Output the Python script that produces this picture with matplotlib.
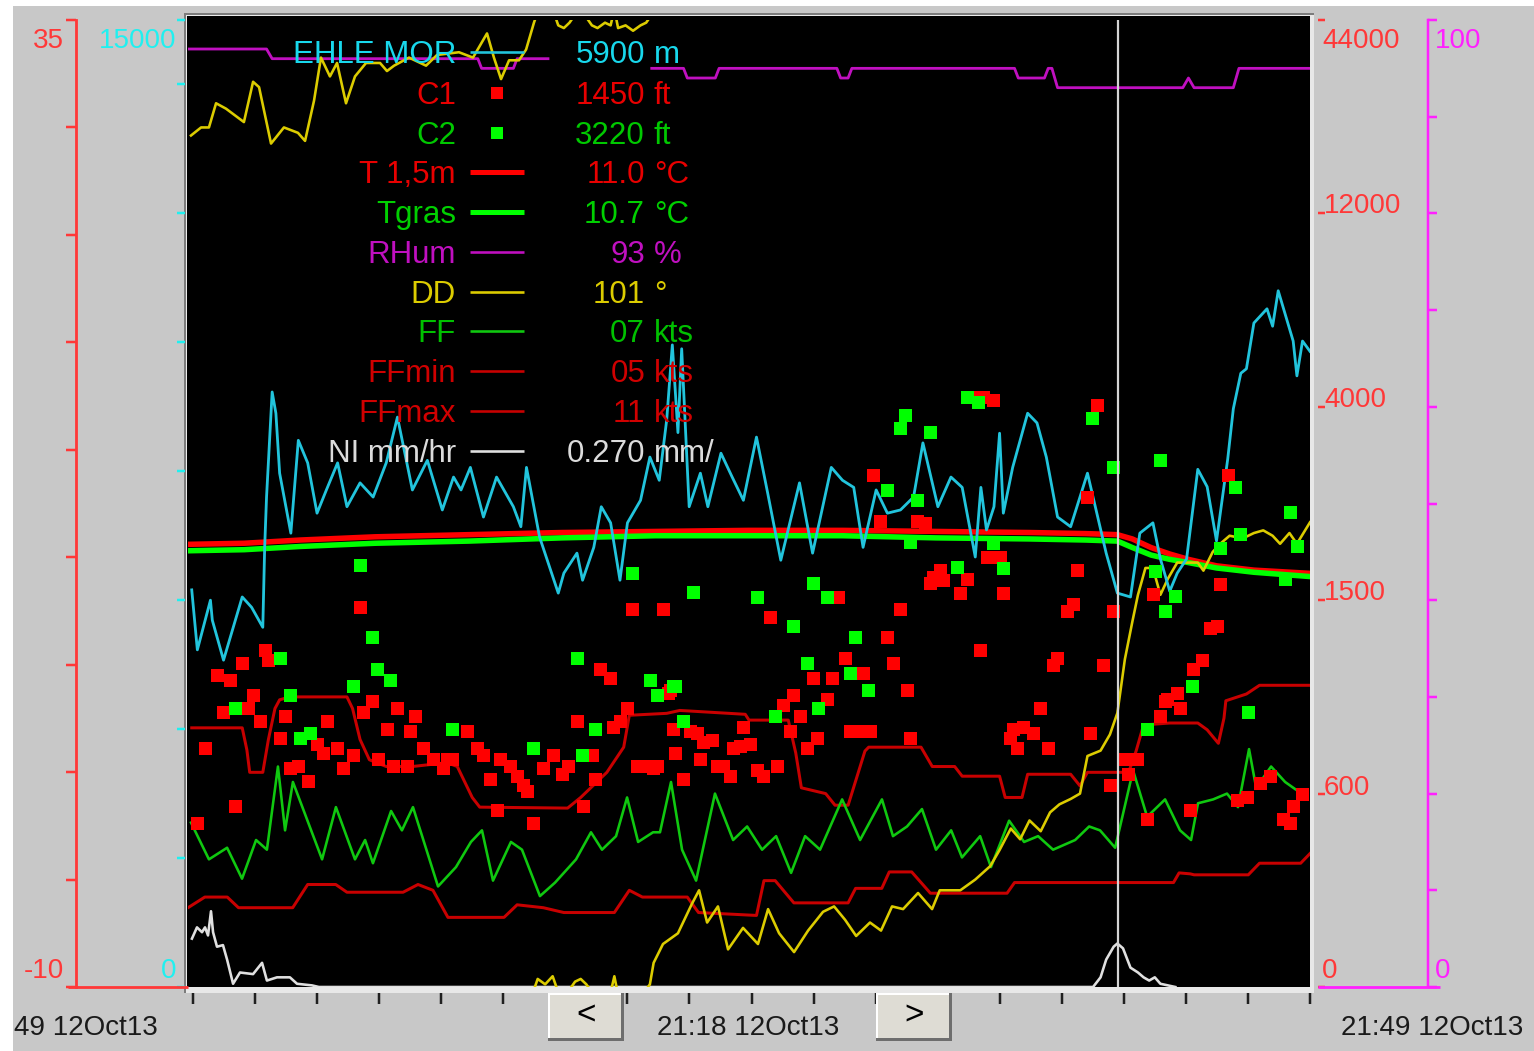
import matplotlib.pyplot as plt
import numpy as np
from matplotlib.lines import Line2D
from matplotlib.patches import Rectangle

plt.rcParams["font.family"] = ["Liberation Sans", "DejaVu Sans"]

W, H = 1534, 1051
PT = 0.72  # points per pixel at dpi 100

# ---- data (x = minutes after 20:49, 12 Oct 2013) ----
MOR_X = [0.2, 0.5, 1.2, 1.3, 1.9, 2.9, 3.4, 4.0, 4.1, 4.2,
         4.5, 4.7, 4.9, 5.5, 5.9, 6.4, 6.9, 7.4, 8.0, 8.5,
         9.2, 9.9, 10.6, 11.2, 12.0, 12.8, 13.6, 14.2, 14.6, 15.1,
         15.8, 16.5, 17.4, 17.8, 18.1, 18.8, 19.8, 20.1, 20.8, 21.1,
         21.7, 22.1, 22.6, 23.1, 23.5, 24.2, 24.7, 25.2, 25.6, 25.9,
         26.2, 26.4, 26.8, 27.4, 27.8, 28.5, 29.1, 29.7, 30.4, 31.0,
         31.7, 32.7, 33.4, 34.4, 35.0, 35.6, 36.1, 36.8, 37.4, 38.1,
         38.8, 39.3, 40.1, 40.8, 41.4, 42.1, 42.4, 42.7, 43.1, 43.4,
         43.6, 44.1, 44.9, 45.4, 45.9, 46.5, 47.2, 48.1, 48.6, 49.1,
         49.7, 50.4, 50.9, 51.6, 52.0, 52.5, 52.9, 53.4, 54.0, 54.5,
         55.0, 55.6, 55.9, 56.3, 56.6, 57.0, 57.7, 58.0, 58.3, 59.1,
         59.3, 59.6, 60.0]
MOR_M = [6160, 5230, 6000, 5690, 5070, 6050, 5890, 5580, 6820, 7600,
         9230, 8900, 7970, 7040, 8480, 8130, 7350, 7710, 8130, 7450,
         7820, 7600, 8130, 8840, 7710, 8170, 7400, 7910, 7710, 8060,
         7290, 7910, 7450, 7140, 8060, 6980, 6110, 6420, 6730, 6310,
         6820, 7450, 7200, 6310, 7200, 7550, 8220, 7860, 8800, 9960,
         8600, 9900, 7450, 7970, 7450, 8280, 7910, 7550, 8530, 7660,
         6620, 7820, 6730, 8060, 7860, 7750, 6820, 7710, 7350, 7400,
         7600, 8440, 7450, 7910, 7750, 6670, 7750, 7090, 7450, 8590,
         7350, 8060, 8900, 8750, 8220, 7290, 7140, 7970, 7350, 6730,
         6110, 6050, 7040, 7200, 6640, 6140, 6420, 6640, 8030, 7760,
         6920, 8190, 8970, 9520, 9590, 10300, 10520, 10250, 10800, 10020,
         9480, 10020, 9860]

C1_X = [0.48, 0.9, 1.55, 1.87, 2.25, 2.51, 2.89, 3.21, 3.48, 3.85,
        4.12, 4.28, 4.92, 5.19, 5.45, 5.88, 6.42, 6.9, 7.22, 7.43,
        7.97, 8.29, 8.82, 9.2, 9.36, 9.84, 10.16, 10.64, 10.96, 11.18,
        11.71, 11.87, 12.14, 12.57, 13.1, 13.64, 13.85, 14.12, 14.92, 15.46,
        15.78, 16.15, 16.52, 16.68, 17.22, 17.59, 17.92, 18.13, 18.45, 18.99,
        19.52, 20.0, 20.32, 20.8, 21.12, 21.61, 21.77, 22.03, 22.57, 22.73,
        23.1, 23.48, 23.74, 24.01, 24.55, 24.87, 25.08, 25.4, 25.67, 25.78,
        25.94, 26.04, 26.47, 26.85, 27.22, 27.38, 27.54, 28.02, 28.29, 28.61,
        28.99, 29.15, 29.52, 29.68, 30.06, 30.43, 30.75, 31.13, 31.5, 31.82,
        32.19, 32.35, 32.73, 33.1, 33.42, 33.64, 34.17, 34.44, 34.76, 35.14,
        35.4, 36.1, 36.1, 36.47, 36.63, 37.01, 37.38, 37.7, 38.08, 38.45,
        38.61, 39.0, 39.4, 39.68, 39.84, 40.22, 40.38, 41.29, 41.66, 41.82,
        42.36, 42.52, 42.73, 43.05, 43.42, 43.58, 43.96, 44.12, 44.34, 44.66,
        45.19, 45.56, 45.99, 46.26, 46.47, 47.01, 47.33, 47.54, 48.08, 48.24,
        48.61, 48.93, 49.31, 49.47, 50.11, 50.27, 50.75, 51.29, 51.61, 51.98,
        52.25, 52.36, 52.89, 53.05, 53.59, 53.75, 54.23, 54.66, 55.03, 55.19,
        55.62, 56.1, 56.63, 57.33, 57.86, 58.56, 58.93, 59.09, 59.57]
C1_FT = [510, 810, 1150, 980, 1130, 560, 1210, 1000, 1060, 940,
         1270, 1220, 860, 960, 720, 730, 660, 830, 790, 940,
         810, 720, 780, 1470, 980, 1030, 760, 900, 730, 1000,
         730, 890, 960, 810, 760, 720, 760, 760, 890, 810,
         780, 670, 550, 760, 730, 680, 640, 610, 510, 720,
         780, 690, 730, 940, 560, 780, 670, 1180, 1140, 910,
         940, 1000, 1460, 730, 730, 720, 730, 1460, 1070, 1080,
         900, 790, 670, 890, 880, 760, 840, 850, 730, 730,
         680, 810, 820, 910, 830, 710, 680, 1420, 730, 1010,
         890, 1060, 960, 810, 1140, 860, 1040, 1140, 1540, 1230,
         890, 1160, 890, 890, 3120, 2530, 1330, 1210, 1460, 1080,
         860, 2530, 2500, 1720, 1800, 1890, 1760, 1590, 1780, 4410,
         1270, 4410, 2060, 4290, 2060, 1590, 860, 900, 810, 910,
         880, 1000, 810, 1200, 1230, 1450, 1480, 1890, 2830, 880,
         4080, 1200, 640, 1450, 760, 690, 760, 520, 1580, 960,
         1030, 1040, 1070, 1000, 550, 1180, 1220, 1370, 1380, 1710,
         3120, 580, 590, 650, 680, 520, 510, 560, 600]

C2_X = [2.51, 4.92, 5.45, 5.99, 6.52, 8.82, 9.2, 9.84, 10.11, 10.8,
        14.12, 18.45, 20.8, 21.07, 21.77, 23.74, 24.71, 25.08, 25.94, 26.04,
        26.47, 27.01, 30.43, 31.39, 32.35, 33.1, 33.42, 33.69, 34.17, 35.4,
        35.67, 36.37, 37.38, 38.08, 38.34, 38.61, 38.99, 39.68, 41.13, 41.66,
        42.25, 43.05, 43.58, 48.35, 49.47, 51.29, 51.71, 51.98, 52.25, 52.78,
        53.69, 55.19, 55.99, 56.26, 56.69, 58.67, 58.93, 59.31]
C2_FT = [1000, 1230, 1060, 860, 880, 1100, 1950, 1330, 1180, 1130,
         900, 810, 1230, 780, 900, 1850, 1130, 1060, 1100, 1100,
         940, 1600, 1540, 960, 1380, 1210, 1720, 1000, 1540, 1160,
         1330, 1080, 2920, 3720, 3890, 2250, 2790, 3670, 1930, 4410,
         4210, 2240, 1910, 3850, 3220, 900, 1880, 3310, 1450, 1550,
         1100, 2170, 2960, 2350, 980, 1780, 2640, 2200]

T_X = [0, 3, 6, 10, 15, 20, 25, 30, 35, 40,
       45, 48, 49.7, 50.5, 51.5, 52.5, 53.5, 55, 57, 60]
T_C = [10.6, 10.65, 10.8, 10.95, 11.05, 11.15, 11.2, 11.25, 11.25, 11.2,
       11.15, 11.1, 11.05, 10.85, 10.45, 10.15, 9.9, 9.6, 9.4, 9.25]
TGRAS_C = [10.3, 10.35, 10.5, 10.65, 10.75, 10.9, 11.0, 11.0, 11.0, 10.9,
           10.85, 10.8, 10.75, 10.45, 10.1, 9.9, 9.75, 9.5, 9.3, 9.1]

RH_X = [0.0, 4.2, 4.5, 15.5, 15.7, 17.4, 17.6, 19.25, 19.3, 24.8,
        26.5, 26.7, 28.2, 28.4, 34.7, 34.9, 35.3, 35.5, 44.2, 44.4,
        45.8, 46.0, 46.2, 46.5, 53.2, 53.5, 53.8, 55.9, 56.2, 60.0]
RH_PCT = [97, 97, 96, 96, 95, 95, 96, 96, np.nan, 95,
          95, 94, 94, 95, 95, 94, 94, 95, 95, 94,
          94, 95, 95, 93, 93, 94, 93, 93, 95, 95]

DD_X = [0.16, 0.70, 1.12, 1.50, 2.03, 2.99, 3.48, 3.80, 4.44, 5.13,
        5.88, 6.26, 6.74, 7.11, 7.59, 7.97, 8.45, 8.93, 9.52, 10.27,
        10.64, 11.02, 11.82, 12.73, 13.32, 14.49, 15.24, 15.99, 16.36, 16.74,
        17.17, 17.70, 18.08, 18.5, 18.7, 19.1, 19.5, 19.8, 20.1, 20.4,
        20.7, 21.0, 21.3, 21.6, 21.9, 22.3, 22.6, 22.8, 23.0, 23.4,
        23.8, 24.2, 24.5, 24.7, 24.9, 25.4, 26.2, 26.95, 27.33, 27.76,
        28.34, 28.88, 29.68, 30.48, 31.02, 31.61, 32.41, 33.16, 33.96, 34.55,
        35.14, 35.73, 36.47, 37.06, 37.65, 38.24, 39.04, 39.79, 40.2, 41.3,
        42.1, 42.9, 43.4, 44.0, 44.5, 45.0, 45.6, 46.1, 46.6, 47.2,
        47.7, 48.1, 48.8, 49.3, 49.7, 50.1, 50.5, 50.8, 51.2, 51.6,
        52.0, 52.4, 52.9, 53.4, 54.0, 54.3, 54.8, 55.2, 55.7, 56.4,
        57.0, 57.5, 58.0, 58.4, 58.9, 59.3, 60.0]
DD_DEG = [317, 320, 320, 329, 327, 322, 337, 335, 314, 320,
          318, 315, 330, 346, 339, 344, 329, 339, 344, 344,
          341, 343, 346, 343, 347, 348, 346, 355, 346, 338,
          345, 345, 349, 359, 3, 1, 4, 358, 357, 359,
          2, 3, 1, 358, 357, 359, 358, 4, 357, 358,
          356, 358, 359, 1, 9, 16, 20, 31, 36, 24,
          30, 14, 22, 16, 29, 20, 13, 21, 28, 30,
          25, 19, 24, 21, 30, 29, 35, 29, 36, 36,
          40, 45, 51, 59, 55, 62, 58, 65, 68, 70,
          72, 86, 88, 94, 102, 122, 136, 146, 156, 156,
          146, 152, 158, 158, 158, 155, 162, 165, 168, 167,
          169, 170, 168, 165, 169, 165, 173]

FF_X = [0.16, 1.12, 2.09, 2.89, 3.64, 4.22, 4.81, 5.19, 5.61, 7.17,
        7.91, 8.93, 9.47, 9.89, 10.86, 11.44, 12.03, 13.37, 14.33, 15.13,
        15.72, 16.31, 17.27, 17.86, 18.82, 19.63, 20.75, 21.55, 22.14, 22.89,
        23.48, 24.07, 24.87, 25.24, 25.83, 26.42, 27.17, 28.18, 29.15, 29.90,
        30.70, 31.45, 32.25, 33.00, 33.80, 34.98, 35.94, 37.11, 37.70, 38.45,
        39.25, 40.00, 40.81, 41.39, 42.36, 42.94, 43.91, 44.71, 45.46, 46.26,
        47.44, 48.19, 48.77, 49.58, 50.54, 51.29, 52.25, 53.05, 53.64, 54.01,
        54.82, 55.56, 56.15, 56.74, 57.12, 57.92, 58.67, 59.84]
FF_KT = [8.5, 6.6, 7.2, 5.6, 7.6, 7.1, 11.4, 8.1, 10.6, 6.6,
         9.3, 6.6, 7.6, 6.4, 9.1, 8.1, 9.3, 5.2, 6.2, 7.5,
         8.1, 5.5, 7.5, 7.1, 4.7, 5.4, 6.6, 8.0, 7.1, 7.8,
         9.8, 7.5, 8.0, 8.0, 10.6, 7.1, 5.5, 10.0, 7.6, 8.3,
         7.1, 7.8, 5.9, 7.8, 7.1, 9.7, 7.6, 9.7, 7.8, 8.3,
         9.2, 7.1, 8.1, 6.7, 7.8, 6.2, 8.6, 7.5, 7.8, 7.1,
         7.6, 8.3, 8.1, 7.2, 11.2, 8.8, 9.7, 8.1, 7.6, 9.5,
         9.7, 10.0, 9.3, 12.3, 10.3, 11.4, 10.6, 9.8]

FFMIN_X = [0, 0.9, 2.1, 2.7, 5.6, 6.4, 7.9, 8.5, 11.5, 12.3,
           13.1, 13.9, 16.9, 17.6, 19.0, 20.1, 22.8, 23.6, 24.3, 26.7,
           27.3, 30.4, 30.8, 31.4, 32.4, 35.3, 35.7, 37.1, 37.5, 38.7,
           39.7, 43.8, 44.2, 52.7, 53.0, 53.6, 53.8, 56.7, 57.3, 59.5, 60.0]
FFMIN_KT = [4.1, 4.65, 4.65, 4.1, 4.1, 5.3, 5.3, 4.9, 4.9, 5.3,
            5.0, 3.6, 3.6, 4.25, 4.1, 3.85, 3.85, 5.0, 4.65, 4.65,
            3.85, 3.7, 5.5, 5.5, 4.35, 4.35, 5.1, 5.1, 5.95, 5.95,
            4.85, 4.85, 5.4, 5.4, 5.9, 5.85, 5.8, 5.8, 6.4, 6.4, 6.9]

FFMAX_X = [0.2, 2.9, 3.15, 3.3, 4.0, 4.3, 4.65, 4.9, 5.45, 8.5,
           8.8, 9.2, 9.7, 10.6, 12.0, 13.85, 14.4, 15.2, 15.6, 20.3,
           21.0, 22.4, 23.3, 23.6, 25.6, 26.3, 29.8, 30.0, 32.1, 32.5,
           32.8, 34.1, 34.6, 35.3, 36.2, 36.4, 39.2, 39.8, 41.0, 41.4,
           43.4, 43.7, 44.6, 44.9, 47.2, 47.7, 48.1, 50.3, 50.7, 51.1,
           52.5, 54.0, 54.5, 55.1, 55.4, 55.5, 56.6, 57.3, 60.0]
FFMAX_KT = [13.4, 13.4, 12.25, 11.1, 11.1, 12.8, 14.4, 14.85, 15.0, 15.0,
            14.4, 12.8, 11.75, 11.4, 11.4, 11.6, 11.4, 9.8, 9.3, 9.25,
            9.8, 11.1, 12.4, 14.05, 14.15, 14.3, 14.1, 13.8, 13.8, 12.1,
            10.3, 10.0, 9.4, 9.4, 12.2, 12.4, 12.4, 11.4, 11.4, 10.9,
            10.9, 9.8, 9.8, 11.0, 11.0, 10.4, 11.1, 11.1, 12.2, 13.55,
            13.65, 13.65, 13.3, 12.6, 13.9, 14.8, 15.15, 15.6, 15.6]

NI_X = [0.21, 0.48, 0.75, 0.91, 1.07, 1.23, 1.34, 1.55, 1.87, 2.09,
        2.41, 2.78, 3.48, 3.96, 4.22, 4.76, 5.45, 5.83, 6.63, 7.0,
        48.0, 48.4, 48.8, 49.1, 49.5, 49.7, 50.0, 50.4, 50.8, 51.1,
        51.4, 51.7, 52.0, 52.4, 52.8]
NI_MM = [0.30, 0.37, 0.34, 0.37, 0.32, 0.47, 0.34, 0.25, 0.26, 0.17,
         0.02, 0.09, 0.08, 0.15, 0.04, 0.06, 0.06, 0.02, 0.01, 0.0,
         0.0, 0.0, 0.06, 0.17, 0.25, 0.27, 0.24, 0.12, 0.09, 0.06,
         0.04, 0.06, 0.02, 0.01, 0.0]

CURSOR_MIN = 49.73
CLOUD_TICKS = [0, 600, 1500, 4000, 12000, 44000]

LEG_NAMES = ["EHLE MOR", "C1", "C2", "T 1,5m", "Tgras", "RHum", "DD",
             "FF", "FFmin", "FFmax", "NI mm/hr"]
LEG_VALUES = ["5900", "1450", "3220", "11.0", "10.7", "93", "101",
              "07", "05", "11", "0.270"]
LEG_UNITS = ["m", "ft", "ft", "°C", "°C", "%", "°", "kts", "kts", "kts", "mm/"]

TIME_LEFT = "49 12Oct13"
TIME_MID = "21:18 12Oct13"
TIME_RIGHT = "21:49 12Oct13"

# ---- colours ----
C_MOR = "#22c4dc"
C_RED = "#ff0000"
C_GREEN = "#00ff00"
C_RH = "#c010c0"
C_DD = "#dccc00"
C_FF = "#10c810"
C_FFR = "#c80000"
C_NI = "#e0e0e0"
AX_RED = "#ff3838"
AX_CYAN = "#20f0f0"
AX_MAG = "#ff20ff"


def fx(px):
    return px / W


def fy(py):
    return 1 - py / H


def fig_rect(fig, x0, y0, x1, y1, color, z):
    fig.add_artist(Rectangle((fx(x0), fy(y1)), (x1 - x0) / W, (y1 - y0) / H,
                             transform=fig.transFigure, facecolor=color,
                             edgecolor="none", zorder=z))


def fig_line(fig, xs, ys, color, lw_px, z=3):
    fig.add_artist(Line2D([fx(x) for x in xs], [fy(y) for y in ys],
                          transform=fig.transFigure, color=color,
                          lw=lw_px * PT, zorder=z, solid_capstyle="butt"))


def fig_text(fig, x, y, s, color, size, ha="left"):
    fig.text(fx(x), fy(y), s, color=color, fontsize=size, ha=ha, va="baseline")


def bare_axes(fig, rect):
    ax = fig.add_axes(rect)
    ax.set_facecolor("none")
    for s in ax.spines.values():
        s.set_visible(False)
    ax.tick_params(left=False, right=False, bottom=False, top=False,
                   labelleft=False, labelright=False, labelbottom=False)
    ax.set_xlim(0, 60)
    return ax


fig = plt.figure(figsize=(W / 100, H / 100), dpi=100, facecolor="white")

# window background and plot frame
fig_rect(fig, 13, 6, W, H, "#c8c8c8", -20)
fig_rect(fig, 184, 13, 1314, 993, "#7c7c7c", -15)
fig_rect(fig, 186, 15, 1314, 993, "#ececec", -14)
fig_rect(fig, 187, 16, 1310, 987, "black", -10)

rect = [fx(188), fy(987), (1310 - 188) / W, (987 - 20) / H]

# temperature (left red axis)
ax_t = bare_axes(fig, rect)
ax_t.set_ylim(-10, 35)
ax_t.spines["left"].set_visible(True)
ax_t.spines["left"].set_position(("outward", 112 * PT))
ax_t.spines["left"].set_color(AX_RED)
ax_t.spines["left"].set_linewidth(2.8 * PT)
ax_t.set_yticks(np.arange(-10, 36, 5))
ax_t.tick_params(axis="y", left=True, direction="out", length=10 * PT,
                 width=2.5 * PT, color=AX_RED)
ax_t.set_xticks(np.linspace(0.27, 60, 19))
ax_t.tick_params(axis="x", bottom=True, direction="out", length=17 * PT,
                 width=2.5 * PT, color="#202020")
ax_t.plot(T_X, T_C, color=C_RED, lw=5.5 * PT)
ax_t.plot(T_X, TGRAS_C, color=C_GREEN, lw=5.5 * PT)

# wind speed
ax_ff = bare_axes(fig, rect)
ax_ff.set_ylim(0, 50)
ax_ff.plot(FFMIN_X, FFMIN_KT, color=C_FFR, lw=3 * PT)
ax_ff.plot(FFMAX_X, FFMAX_KT, color=C_FFR, lw=3 * PT)
ax_ff.plot(FF_X, FF_KT, color=C_FF, lw=2.6 * PT)

# relative humidity (right magenta axis)
ax_h = bare_axes(fig, rect)
ax_h.set_ylim(0, 100)
ax_h.spines["right"].set_visible(True)
ax_h.spines["right"].set_position(("outward", 118 * PT))
ax_h.spines["right"].set_color(AX_MAG)
ax_h.spines["right"].set_linewidth(2.5 * PT)
ax_h.set_yticks(np.arange(0, 101, 10))
ax_h.tick_params(axis="y", right=True, direction="out", length=9 * PT,
                 width=2.5 * PT, color=AX_MAG)
ax_h.plot(RH_X, RH_PCT, color=C_RH, lw=2.8 * PT)

# precipitation
ax_ni = bare_axes(fig, rect)
ax_ni.set_ylim(0, 6)
ax_ni.plot(NI_X, NI_MM, color=C_NI, lw=2.6 * PT)

# wind direction, wrapped at north
ax_dd = bare_axes(fig, rect)
ax_dd.set_ylim(0, 360)
dd_u = np.rad2deg(np.unwrap(np.deg2rad(DD_DEG)))
for off in (-360, 0, 360):
    ax_dd.plot(DD_X, dd_u + off, color=C_DD, lw=2.6 * PT)

# visibility (left cyan ticks)
ax_v = bare_axes(fig, rect)
ax_v.set_ylim(0, 15000)
ax_v.spines["left"].set_position(("outward", 3 * PT))
ax_v.set_yticks(list(range(0, 15000, 2000)) + [15000])
ax_v.tick_params(axis="y", left=True, direction="out", length=8 * PT,
                 width=2.5 * PT, color=AX_CYAN)
ax_v.plot(MOR_X, MOR_M, color=C_MOR, lw=2.8 * PT)


# cloud base (right red, piecewise scale)
def cloud_fwd(v):
    return np.interp(v, CLOUD_TICKS, np.arange(len(CLOUD_TICKS)))


def cloud_inv(u):
    return np.interp(u, np.arange(len(CLOUD_TICKS)), CLOUD_TICKS)


ax_c = bare_axes(fig, rect)
ax_c.set_yscale("function", functions=(cloud_fwd, cloud_inv))
ax_c.set_ylim(0, 44000)
ax_c.spines["right"].set_position(("outward", 8 * PT))
ax_c.set_yticks(CLOUD_TICKS)
ax_c.tick_params(axis="y", right=True, direction="out", length=7 * PT,
                 width=2.5 * PT, color=AX_RED, labelright=False)
ax_c.plot(C1_X, C1_FT, ls="none", marker="s", ms=13 * PT, mew=0, color=C_RED)
ax_c.plot(C2_X, C2_FT, ls="none", marker="s", ms=13 * PT, mew=0, color=C_GREEN)
ax_c.axvline(CURSOR_MIN, color="#d4d4d4", lw=2.2 * PT)

# frame edges over the tick roots
fig_rect(fig, 186, 987, 1314, 993, "#e8e8e8", 2)
fig_rect(fig, 1310, 15, 1314, 993, "#e8e8e8", 2)
fig_line(fig, [68, 188], [987, 987], AX_RED, 2.8)
fig_line(fig, [1318, 1440], [987, 987], AX_MAG, 2.8)

# axis labels
LAB = 20
fig_text(fig, 64, 48, "35", AX_RED, LAB, "right")
fig_text(fig, 64, 978, "-10", AX_RED, LAB, "right")
fig_text(fig, 176, 48, "15000", AX_CYAN, LAB, "right")
fig_text(fig, 176, 978, "0", AX_CYAN, LAB, "right")
fig_text(fig, 1322, 48, "44000", AX_RED, LAB)
for lab, yb in zip(["12000", "4000", "1500", "600"], [213, 407, 600, 795]):
    fig_text(fig, 1324, yb, lab, AX_RED, LAB)
fig_text(fig, 1322, 978, "0", AX_RED, LAB)
fig_text(fig, 1435, 48, "100", AX_MAG, LAB)
fig_text(fig, 1435, 978, "0", AX_MAG, LAB)

fig_text(fig, 14, 1035, TIME_LEFT, "#1a1a1a", LAB)
fig_text(fig, 748, 1035, TIME_MID, "#1a1a1a", LAB, "center")
fig_text(fig, 1523, 1035, TIME_RIGHT, "#1a1a1a", LAB, "right")

# scroll buttons
for x0, x1, sym in [(548, 624, "<"), (876, 952, ">")]:
    fig_rect(fig, x0, 993, x1, 1041, "#6e6e6e", 4)
    fig_rect(fig, x0, 993, x1 - 3, 1038, "#ffffff", 4)
    fig_rect(fig, x0 + 2, 995, x1 - 3, 1038, "#dedcd4", 4)
    fig.text(fx((x0 + x1) / 2), fy(1016), sym, color="black", fontsize=24,
             ha="center", va="center", zorder=5)

# legend block
LEG_Y = [63, 104, 144, 183, 223, 263, 303, 342, 382, 422, 462]
LEG_TXT = ["#18d8ec", "#e80000", "#00c800", "#e80000", "#00d000", "#c010c0",
           "#dccc00", "#00c000", "#d00000", "#d00000", "#dcdcdc"]
LEG_KIND = ["line", "square", "square", "thick", "thick", "line", "line",
            "line", "line", "line", "line"]
LEG_MARK = [C_MOR, C_RED, C_GREEN, C_RED, C_GREEN, C_RH, C_DD, C_FF, C_FFR,
            C_FFR, C_NI]
LEG = 22.5
for name, val, unit, yb, tc, kind, mc in zip(LEG_NAMES, LEG_VALUES, LEG_UNITS,
                                              LEG_Y, LEG_TXT, LEG_KIND, LEG_MARK):
    fig_text(fig, 456, yb, name, tc, LEG, "right")
    fig_text(fig, 645, yb, val, tc, LEG, "right")
    fig_text(fig, 654, yb, unit, tc, LEG)
    ym = yb - 11
    if kind == "square":
        fig.add_artist(Line2D([fx(497)], [fy(ym)], transform=fig.transFigure,
                              ls="none", marker="s", ms=12 * PT, mew=0,
                              color=mc, zorder=3))
    else:
        fig_line(fig, [470, 524], [ym, ym], mc, 5 if kind == "thick" else 2.6)

fig.savefig("out.png", dpi=100, facecolor="white")
